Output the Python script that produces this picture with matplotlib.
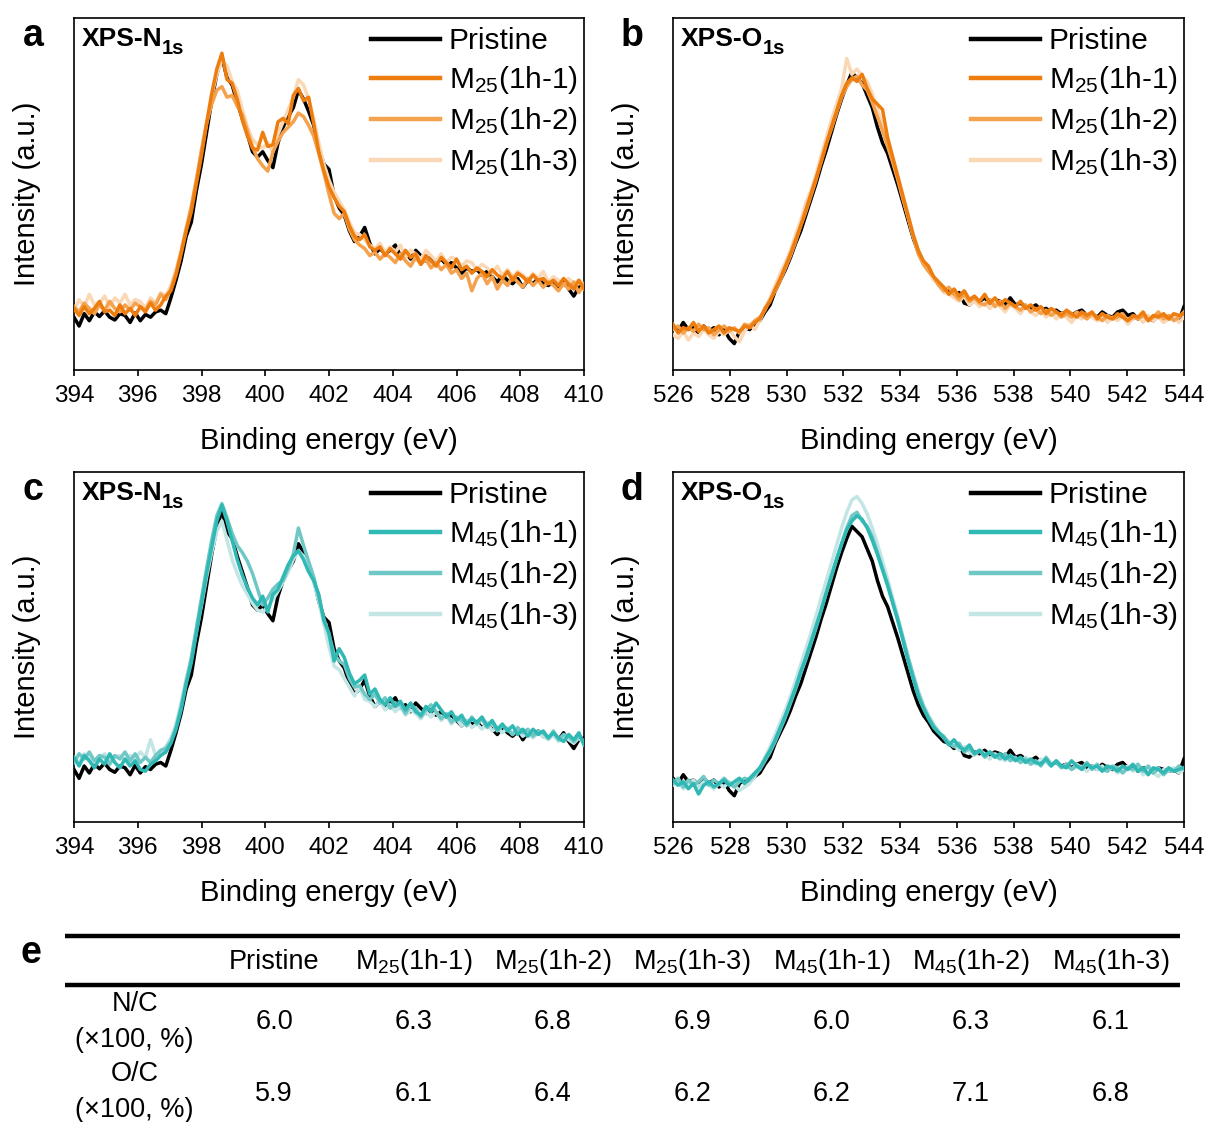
import numpy as np
import matplotlib
matplotlib.use("Agg")
import matplotlib.pyplot as plt

plt.rcParams["font.family"] = ["Liberation Sans", "DejaVu Sans"]
plt.rcParams["mathtext.fontset"] = "custom"
plt.rcParams["mathtext.rm"] = "Liberation Sans"
plt.rcParams["mathtext.it"] = "Liberation Sans:italic"
plt.rcParams["mathtext.bf"] = "Liberation Sans:bold"

# ---------------- spectra (normalised intensity, a.u.) ----------------
# N 1s binding-energy grid: 394-410 eV, 0.16 eV step
n1s_energy = np.linspace(394, 410, 101)
# O 1s binding-energy grid: 526-544 eV, 0.18 eV step
o1s_energy = np.linspace(526, 544, 101)

n1s_pristine = [
    15.0, 12.5, 16.0, 14.0, 16.5, 15.2, 16.8, 15.0, 14.2, 16.0,
    15.5, 13.5, 16.2, 14.0, 15.8, 15.0, 16.5, 17.0, 16.0, 20.5,
    25.5, 31.0, 38.0, 42.0, 51.0, 58.5, 67.5, 76.5, 84.0, 89.0,
    83.0, 81.0, 76.0, 71.5, 67.0, 62.0, 60.5, 62.0, 59.5, 57.5,
    64.5, 69.0, 72.0, 74.5, 79.5, 77.0, 73.5, 69.5, 63.0, 58.5,
    57.0, 49.5, 46.0, 44.0, 39.5, 36.5, 38.0, 40.5, 36.0, 33.0,
    34.5, 33.0, 34.0, 35.5, 32.5, 33.5, 31.5, 34.0, 32.5, 31.0,
    32.0, 30.5, 31.5, 30.0, 30.5, 29.0, 27.5, 29.0, 28.0, 28.5,
    27.0, 28.0, 26.5, 25.0, 27.0, 25.5, 24.5, 26.0, 23.5, 25.5,
    24.5, 26.0, 24.5, 24.0, 25.0, 23.5, 25.5, 23.0, 21.0, 23.5,
    24.0]
n1s_m25_1 = [
    17.5, 15.5, 18.0, 16.0, 17.5, 19.5, 16.5, 17.0, 15.5, 18.5,
    16.0, 17.5, 15.5, 18.0, 16.5, 19.0, 17.0, 18.5, 21.0, 22.5,
    27.0, 33.0, 39.5, 45.0, 53.0, 61.0, 70.0, 78.5, 85.5, 90.0,
    82.5, 81.5, 77.0, 71.0, 66.5, 63.0, 62.5, 67.5, 63.5, 64.0,
    70.5, 71.5, 70.0, 78.0, 80.0, 76.5, 77.5, 70.0, 62.0, 56.5,
    52.0, 49.0, 46.5, 45.0, 41.0, 38.0, 37.0, 38.5, 35.0, 34.0,
    35.0, 32.5, 34.5, 33.0, 31.5, 34.0, 32.0, 33.0, 30.0, 32.5,
    31.0, 29.5, 32.0, 30.5, 29.0, 31.5, 28.5, 29.5, 27.5, 29.0,
    28.0, 26.5, 28.5, 27.0, 26.0, 28.0, 25.5, 27.5, 26.5, 25.0,
    27.0, 25.5, 26.0, 24.5, 25.5, 24.0, 26.0, 24.5, 23.0, 25.5,
    23.0]
n1s_m25_2 = [
    18.0, 16.5, 19.0, 17.5, 16.0, 18.5, 17.0, 19.5, 17.5, 16.5,
    18.5, 17.0, 19.0, 18.0, 17.0, 19.5, 18.5, 21.5, 20.0, 23.0,
    27.5, 33.5, 40.0, 46.5, 54.0, 62.5, 70.0, 75.5, 79.5, 80.5,
    77.5, 78.0, 75.0, 72.5, 68.0, 63.5, 60.0, 58.0, 56.5, 62.0,
    65.0, 67.5, 69.0, 70.5, 73.0, 72.0, 69.5, 66.5, 61.5, 56.0,
    50.0, 44.5, 43.0, 44.5, 40.0, 37.0, 35.5, 34.5, 32.5, 33.5,
    31.5, 33.0, 32.0, 30.5, 33.0, 31.0, 29.5, 32.0, 30.0, 31.5,
    29.0, 30.5, 28.5, 30.0, 27.5, 28.5, 26.0, 27.5, 22.5, 26.0,
    27.5, 24.5, 26.5, 23.0, 25.5, 24.0, 26.5, 25.0, 23.5, 26.0,
    24.0, 25.5, 23.5, 25.0, 24.0, 22.5, 24.5, 23.0, 25.0, 22.0,
    24.5]
n1s_m25_3 = [
    17.0, 20.0, 18.0, 21.5, 18.5, 19.0, 21.0, 18.0, 20.5, 19.0,
    21.5, 18.5, 20.0, 19.5, 17.5, 20.5, 19.0, 22.0, 21.0, 24.0,
    28.5, 34.0, 40.5, 46.0, 54.5, 62.0, 70.5, 78.0, 84.0, 88.0,
    86.5, 82.0, 79.5, 74.0, 69.0, 65.5, 64.0, 63.0, 64.5, 62.0,
    67.0, 70.5, 74.0, 77.5, 82.5, 81.0, 77.0, 71.5, 64.5, 58.5,
    54.0, 50.5, 48.0, 45.5, 42.0, 39.0, 38.5, 37.0, 35.5, 34.5,
    36.0, 33.5, 35.0, 33.5, 35.5, 32.0, 34.0, 33.0, 31.5, 34.0,
    32.5, 31.0, 33.0, 30.5, 32.0, 31.5, 29.5, 31.0, 30.5, 28.5,
    30.0, 29.0, 27.5, 29.5, 27.0, 28.5, 26.5, 28.0, 27.0, 25.5,
    27.5, 26.0, 28.0, 25.0, 26.5, 25.5, 24.0, 26.0, 24.5, 25.5,
    24.0]
n1s_m45_1 = [
    18.5, 16.0, 19.0, 17.5, 15.5, 18.0, 16.5, 19.5, 17.0, 15.5,
    18.0, 16.0, 17.5, 15.0, 14.5, 16.5, 17.5, 19.0, 20.0, 22.5,
    26.5, 32.0, 39.5, 45.5, 54.0, 62.5, 71.0, 78.5, 86.0, 90.5,
    86.0, 80.5, 75.0, 70.5, 67.0, 64.0, 62.0, 64.5, 60.0, 65.0,
    66.5, 70.0, 73.5, 76.0, 77.5, 75.0, 71.5, 69.0, 65.0, 57.5,
    54.0, 46.0, 49.5, 47.0, 42.5, 39.5, 40.5, 42.0, 36.5, 38.0,
    35.0, 33.5, 35.5, 33.0, 34.5, 32.0, 34.0, 31.5, 30.5, 33.0,
    31.5, 34.0, 32.0, 30.0, 31.5, 29.0, 30.5, 28.0, 29.5, 28.5,
    30.0, 27.5, 29.0, 26.5, 28.0, 26.0, 27.5, 25.0, 26.5, 24.5,
    26.5, 25.0, 26.0, 24.0, 25.5, 24.0, 23.0, 25.0, 23.5, 25.5,
    22.0]
n1s_m45_2 = [
    17.0, 19.5, 18.0, 20.0, 17.5, 19.0, 18.5, 16.5, 19.0, 18.0,
    20.0, 17.5, 19.5, 17.0, 18.5, 17.0, 19.0, 20.5, 21.0, 23.0,
    27.0, 33.0, 40.0, 47.0, 55.5, 64.0, 72.5, 80.5, 87.5, 91.0,
    87.0, 82.5, 79.0, 77.0, 74.5, 71.0, 66.5, 62.0, 64.0, 66.5,
    68.0, 69.0, 72.5, 76.5, 84.0, 79.0, 74.5, 70.0, 64.0, 58.0,
    53.5, 48.0, 46.0, 45.0, 41.0, 38.5, 39.0, 36.5, 35.0, 36.5,
    34.0, 35.5, 32.5, 34.0, 33.5, 31.0, 33.5, 32.5, 30.0, 32.0,
    33.5, 31.5, 29.5, 31.0, 28.5, 30.0, 29.0, 27.5, 30.0, 28.0,
    29.5, 27.0, 28.5, 26.0, 27.5, 26.5, 25.0, 27.0, 25.5, 26.5,
    24.5, 26.0, 25.5, 24.0, 26.0, 23.5, 25.0, 24.5, 23.0, 24.5,
    23.0]
n1s_m45_3 = [
    18.0, 17.0, 19.5, 18.5, 17.0, 18.0, 19.5, 17.5, 18.5, 19.0,
    17.5, 19.0, 18.0, 20.0, 18.5, 23.5, 19.0, 20.0, 21.5, 24.0,
    28.0, 34.0, 41.0, 46.5, 54.5, 62.0, 70.0, 77.0, 83.0, 86.0,
    80.5, 75.0, 71.0, 67.5, 65.0, 62.5, 60.5, 60.0, 61.5, 63.5,
    66.0, 68.5, 71.5, 75.0, 77.5, 76.0, 73.0, 68.5, 63.0, 56.5,
    50.0, 44.5, 43.5, 41.0, 38.5, 36.0, 38.5, 35.0, 34.5, 33.0,
    34.5, 32.0, 33.5, 31.5, 33.0, 30.5, 32.0, 31.0, 29.5, 31.5,
    30.0, 31.5, 29.0, 30.5, 28.0, 29.5, 27.5, 29.0, 27.0, 28.0,
    26.5, 28.5, 26.0, 27.0, 25.5, 27.0, 25.0, 26.5, 24.5, 25.5,
    24.0, 25.5, 24.5, 23.5, 25.0, 23.0, 24.5, 23.5, 22.5, 24.0,
    22.5]

o1s_pristine = [
    12.5, 11.0, 13.5, 11.5, 12.0, 10.5, 12.5, 11.0, 12.0, 10.0,
    11.5, 9.0, 7.5, 11.0, 12.0, 11.5, 13.0, 14.0, 16.5, 18.5,
    22.5, 25.5, 28.5, 32.0, 36.0, 39.5, 44.0, 48.5, 53.0, 58.0,
    62.5, 67.5, 72.5, 77.0, 81.0, 84.5, 83.0, 81.5, 78.0, 74.5,
    69.0, 64.5, 61.5, 57.0, 52.5, 47.5, 42.5, 37.5, 33.5, 30.5,
    28.5, 26.0, 24.5, 23.0, 22.5, 21.0, 22.0, 19.0, 18.5, 20.0,
    19.5, 20.5, 19.0, 20.0, 19.5, 18.5, 20.5, 18.5, 19.0, 18.0,
    17.5, 18.5, 17.0, 17.5, 16.5, 17.0, 16.0, 16.5, 15.5, 16.5,
    17.0, 15.5, 16.0, 15.0, 16.5, 15.5, 15.0, 16.5, 17.0, 15.5,
    16.0, 14.5, 15.5, 15.0, 14.0, 15.5, 15.0, 14.5, 15.0, 14.0,
    18.0]
o1s_m25_1 = [
    13.0, 10.5, 12.0, 11.5, 13.5, 11.0, 12.5, 10.5, 11.5, 12.5,
    10.5, 12.0, 11.5, 11.0, 12.5, 12.0, 13.5, 14.5, 17.5, 19.5,
    23.0, 26.0, 29.5, 33.0, 37.0, 41.0, 45.5, 50.0, 54.5, 59.0,
    64.0, 69.0, 73.5, 78.0, 81.5, 83.0, 82.0, 84.0, 80.0, 77.0,
    75.5, 74.0, 66.0, 60.5, 55.0, 49.5, 44.0, 38.5, 34.0, 31.0,
    29.5, 26.5, 25.0, 23.5, 21.5, 23.0, 21.0, 22.5, 20.0, 21.0,
    19.5, 21.5, 19.0, 20.5, 18.5, 20.0, 19.0, 18.0, 19.5, 17.5,
    18.5, 17.0, 18.0, 16.0, 17.5, 16.5, 15.5, 17.0, 16.0, 15.0,
    16.5, 15.5, 16.5, 14.5, 16.0, 15.0, 14.5, 16.0, 15.0, 14.0,
    15.5, 15.0, 16.5, 14.0, 15.5, 15.0, 16.0, 14.5, 16.0, 15.5,
    16.0]
o1s_m25_2 = [
    11.5, 12.5, 10.5, 12.0, 11.0, 13.0, 11.5, 12.0, 10.0, 11.5,
    12.5, 11.0, 12.0, 10.5, 13.0, 12.5, 14.0, 15.0, 17.0, 20.0,
    22.5, 25.5, 29.0, 32.5, 36.5, 41.0, 45.0, 49.5, 54.0, 59.5,
    64.5, 68.5, 73.0, 77.5, 80.5, 82.5, 83.5, 81.0, 79.5, 76.0,
    72.0, 68.0, 63.5, 59.0, 54.0, 48.5, 43.5, 38.0, 33.0, 30.0,
    28.0, 26.5, 24.0, 22.5, 23.5, 21.5, 20.0, 21.5, 19.5, 20.5,
    19.0, 18.5, 20.0, 18.0, 19.5, 17.5, 19.0, 18.0, 17.0, 18.5,
    16.5, 17.5, 16.0, 17.0, 15.5, 16.5, 15.0, 16.0, 15.0, 16.5,
    15.5, 14.5, 16.0, 15.0, 14.0, 15.5, 14.5, 15.0, 16.0, 14.0,
    15.0, 14.5, 15.5, 14.0, 15.0, 16.5, 14.5, 15.5, 14.0, 15.0,
    16.5]
o1s_m25_3 = [
    10.0, 9.0, 11.0, 8.5, 10.5, 9.5, 11.5, 10.0, 9.0, 11.0,
    10.0, 11.5, 9.5, 8.0, 11.0, 13.0, 11.5, 14.0, 17.5, 20.5,
    24.0, 27.5, 30.5, 34.0, 38.5, 42.5, 47.5, 51.0, 55.5, 61.0,
    66.0, 71.0, 75.5, 80.0, 88.5, 84.0, 85.5, 83.5, 82.0, 78.5,
    74.0, 69.5, 64.5, 59.5, 54.5, 49.0, 43.5, 38.0, 34.0, 30.5,
    28.5, 25.5, 24.5, 22.0, 21.5, 20.5, 19.5, 21.0, 18.5, 19.5,
    18.0, 19.0, 17.5, 19.5, 18.0, 16.5, 18.5, 17.5, 16.0, 18.0,
    16.5, 15.5, 17.0, 15.0, 16.5, 14.5, 16.0, 15.0, 13.5, 15.5,
    14.5, 16.0, 15.0, 14.0, 15.5, 13.5, 15.0, 14.0, 15.5, 13.0,
    14.5, 15.0, 13.5, 15.5, 14.0, 15.0, 13.5, 14.5, 15.5, 13.5,
    15.0]
o1s_m45_1 = [
    12.0, 10.5, 11.5, 9.5, 11.0, 8.0, 10.5, 11.5, 10.0, 11.0,
    12.0, 10.5, 11.5, 12.5, 11.0, 12.5, 14.0, 15.5, 18.0, 20.5,
    23.5, 27.0, 30.5, 34.5, 38.5, 43.0, 47.0, 51.5, 56.0, 60.5,
    65.5, 70.5, 75.0, 79.5, 83.5, 86.0, 87.5, 86.5, 84.0, 80.5,
    76.5, 72.0, 67.5, 62.5, 57.5, 52.0, 46.0, 41.0, 36.0, 32.5,
    29.5, 27.0, 25.5, 24.0, 22.0, 23.5, 21.5, 20.5, 22.0, 19.5,
    20.5, 19.0, 20.0, 18.5, 19.5, 18.0, 19.0, 17.5, 18.5, 17.0,
    18.0, 17.0, 16.5, 18.0, 16.0, 17.5, 16.0, 15.5, 17.5, 16.0,
    15.0, 16.5, 15.5, 16.0, 14.5, 16.0, 15.5, 14.5, 16.0, 15.0,
    16.5, 14.5, 15.5, 13.5, 15.5, 15.0, 14.0, 15.5, 14.5, 15.0,
    15.5]
o1s_m45_2 = [
    11.0, 12.5, 10.0, 12.0, 10.5, 11.5, 13.0, 10.5, 12.0, 11.0,
    12.5, 11.0, 10.0, 11.5, 12.5, 12.0, 13.5, 15.0, 17.5, 20.0,
    23.0, 26.5, 30.0, 34.0, 38.0, 42.5, 46.5, 51.0, 55.5, 60.5,
    65.5, 70.0, 75.0, 79.5, 84.0, 87.5, 88.5, 86.0, 84.5, 81.5,
    77.0, 72.5, 68.0, 63.0, 58.0, 52.5, 47.0, 42.0, 37.0, 33.0,
    30.0, 27.5, 25.5, 24.5, 22.5, 21.5, 22.5, 20.0, 21.0, 19.5,
    20.5, 18.5, 20.0, 19.0, 18.0, 19.5, 17.5, 18.5, 17.0, 18.0,
    16.5, 17.5, 16.0, 18.5, 16.5, 17.0, 15.5, 16.5, 15.0, 16.0,
    15.5, 17.0, 15.0, 16.5, 15.0, 14.5, 16.0, 15.5, 14.0, 15.5,
    15.0, 16.5, 14.5, 16.0, 14.0, 15.5, 13.5, 15.0, 14.5, 16.0,
    15.0]
o1s_m45_3 = [
    10.5, 11.5, 9.5, 11.0, 12.0, 10.0, 11.5, 10.5, 9.5, 11.0,
    10.0, 11.5, 10.5, 9.0, 10.0, 11.0, 13.0, 15.5, 18.5, 21.5,
    25.0, 28.5, 32.0, 36.0, 40.5, 45.0, 49.5, 54.0, 59.0, 64.0,
    69.0, 74.0, 79.0, 84.0, 88.5, 92.0, 93.0, 91.0, 88.0, 84.0,
    79.5, 74.5, 69.5, 64.0, 58.5, 53.0, 47.5, 42.0, 37.5, 33.5,
    30.5, 28.0, 26.0, 24.0, 23.0, 22.0, 20.5, 21.5, 20.0, 19.0,
    20.5, 19.5, 18.0, 19.5, 18.5, 17.5, 19.0, 18.0, 17.0, 18.5,
    17.5, 16.5, 18.0, 17.0, 16.0, 17.5, 15.5, 16.5, 15.0, 16.5,
    15.5, 14.5, 16.0, 15.0, 16.0, 14.5, 15.5, 14.0, 15.0, 16.0,
    14.5, 15.5, 13.5, 15.0, 14.0, 13.0, 15.0, 14.5, 15.5, 14.0,
    15.0]

# ---------------- table (atomic ratios x100, %) ----------------
samples = ["Pristine", "M25(1h-1)", "M25(1h-2)", "M25(1h-3)",
           "M45(1h-1)", "M45(1h-2)", "M45(1h-3)"]
n_to_c = [6.0, 6.3, 6.8, 6.9, 6.0, 6.3, 6.1]
o_to_c = [5.9, 6.1, 6.4, 6.2, 6.2, 7.1, 6.8]

orange_shades = ["#EE7D10", "#F4A24E", "#FAD8B6"]
teal_shades = ["#2FB8B4", "#70C8C6", "#C3E6E5"]


def mathlabel(name):
    """Write e.g. M25(1h-1) with the series number as a subscript."""
    if name.startswith("M"):
        return "M$_{%s}$%s" % (name[1:3], name[3:])
    return name


fig = plt.figure(figsize=(12.05, 11.22), dpi=100)
W, H = 1205.0, 1122.0


def add_panel(left, top, right, bottom):
    return fig.add_axes([left / W, 1 - bottom / H, (right - left) / W, (bottom - top) / H])


panels = [
    dict(box=(74, 18, 584, 370), x=n1s_energy, base=n1s_pristine,
         series=[n1s_m25_1, n1s_m25_2, n1s_m25_3], names=samples[1:4],
         colors=orange_shades, xlim=(394, 410), element="N", letter="a"),
    dict(box=(673, 18, 1184, 370), x=o1s_energy, base=o1s_pristine,
         series=[o1s_m25_1, o1s_m25_2, o1s_m25_3], names=samples[1:4],
         colors=orange_shades, xlim=(526, 544), element="O", letter="b"),
    dict(box=(74, 472, 584, 822), x=n1s_energy, base=n1s_pristine,
         series=[n1s_m45_1, n1s_m45_2, n1s_m45_3], names=samples[4:7],
         colors=teal_shades, xlim=(394, 410), element="N", letter="c"),
    dict(box=(673, 472, 1184, 822), x=o1s_energy, base=o1s_pristine,
         series=[o1s_m45_1, o1s_m45_2, o1s_m45_3], names=samples[4:7],
         colors=teal_shades, xlim=(526, 544), element="O", letter="d"),
]

for p in panels:
    ax = add_panel(*p["box"])
    h0, = ax.plot(p["x"], p["base"], color="black", lw=2.5, label="Pristine", zorder=2)
    drawn = {}
    for k in (2, 1, 0):
        ln, = ax.plot(p["x"], p["series"][k], color=p["colors"][k], lw=2.5,
                      label=mathlabel(p["names"][k]), zorder=3 + (2 - k))
        drawn[k] = ln
    handles = [h0, drawn[0], drawn[1], drawn[2]]
    ax.set_xlim(*p["xlim"])
    ax.set_ylim(0, 100)
    ax.set_yticks([])
    ax.set_xticks(np.arange(p["xlim"][0], p["xlim"][1] + 0.1, 2))
    ax.tick_params(axis="x", direction="out", length=4, width=1.2, labelsize=17.5, pad=7)
    for s in ax.spines.values():
        s.set_linewidth(1.2)
    ax.set_xlabel("Binding energy (eV)", fontsize=21, labelpad=14)
    ax.set_ylabel("Intensity (a.u.)", fontsize=21, labelpad=24)
    leg = ax.legend(handles=handles, loc="upper right", bbox_to_anchor=(1.0, 0.99),
                    frameon=False, fontsize=21.5, handlelength=2.3, handletextpad=0.3,
                    labelspacing=0.3, borderaxespad=0.0, borderpad=0.2)
    for lh in leg.get_lines():
        lh.set_linewidth(3.2)
    t = ax.text(0.016, 0.975, "XPS-" + p["element"], transform=ax.transAxes,
                fontsize=19, fontweight="bold", ha="left", va="top")
    ax.annotate("1s", xy=(1, 0), xycoords=t, xytext=(-0.5, -5),
                textcoords="offset points", fontsize=14.5, fontweight="bold",
                ha="left", va="bottom")
    l, tp = p["box"][0], p["box"][1]
    fig.text((l - 41) / W, 1 - (tp + 18) / H, p["letter"], fontsize=27,
             fontweight="bold", ha="center", va="center")

# ---------------- table e ----------------
tx0, tx1 = 65.0, 1180.0
ty0, ty1 = 925.0, 1122.0
tab = fig.add_axes([tx0 / W, 1 - ty1 / H, (tx1 - tx0) / W, (ty1 - ty0) / H])
tab.set_xlim(-1.5, 6.5)
tab.set_ylim(ty1 - ty0, 0)
tab.axis("off")
tab.plot([-1.5, 6.5], [11, 11], color="black", lw=3.2, solid_capstyle="butt", clip_on=False)
tab.plot([-1.5, 6.5], [60, 60], color="black", lw=3.2, solid_capstyle="butt", clip_on=False)
for j, name in enumerate(samples):
    tab.text(j, 37, mathlabel(name), fontsize=19.5, ha="center", va="center")
    tab.text(j, 97, "%.1f" % n_to_c[j], fontsize=19.5, ha="center", va="center")
    tab.text(j, 169, "%.1f" % o_to_c[j], fontsize=19.5, ha="center", va="center")
tab.text(-1.0, 97, "N/C\n(\u00d7100, %)", fontsize=19.5, ha="center", va="center", linespacing=1.5)
tab.text(-1.0, 167, "O/C\n(\u00d7100, %)", fontsize=19.5, ha="center", va="center", linespacing=1.5)
fig.text(31 / W, 1 - 953 / H, "e", fontsize=27, fontweight="bold", ha="center", va="center")

fig.savefig("out.png", dpi=100, facecolor="white")
